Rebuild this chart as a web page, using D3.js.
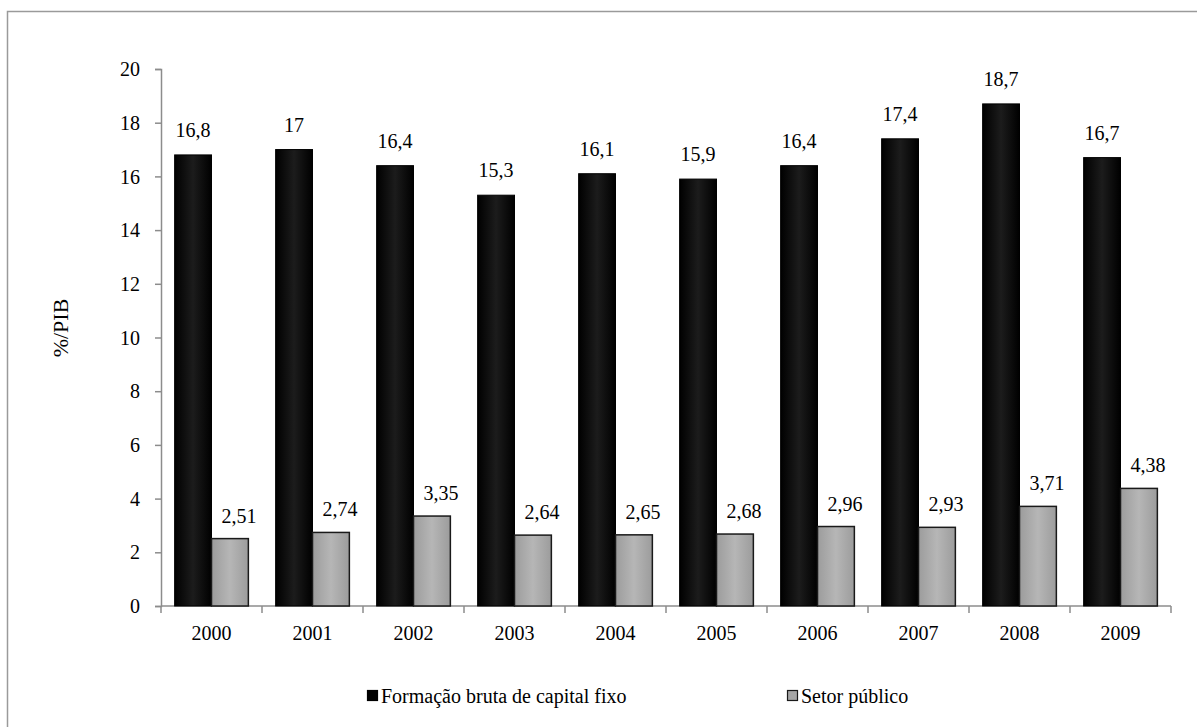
<!DOCTYPE html>
<html>
<head>
<meta charset="utf-8">
<script src="https://cdn.jsdelivr.net/npm/d3@7"></script>
<style>
  html, body { margin: 0; padding: 0; background: #fff; }
</style>
</head>
<body>
<svg id="chart" width="1197" height="727"></svg>
<script>
// Investimento em % do PIB, 2000–2009
const years = ["2000", "2001", "2002", "2003", "2004", "2005", "2006", "2007", "2008", "2009"];
const fbcf = [16.8, 17, 16.4, 15.3, 16.1, 15.9, 16.4, 17.4, 18.7, 16.7];
const setorPublico = [2.51, 2.74, 3.35, 2.64, 2.65, 2.68, 2.96, 2.93, 3.71, 4.38];
const yTicks = [0, 2, 4, 6, 8, 10, 12, 14, 16, 18, 20];
const seriesNames = ["Formação bruta de capital fixo", "Setor público"];

const FONT = "'Liberation Serif', 'Times New Roman', serif";
const fmt = v => String(v).replace(".", ",");
const textStyle = (sel, size) => sel.style("font-family", FONT).style("font-size", size + "px").style("fill", "#000");

const svg = d3.select("#chart");

// outer frame
svg.append("rect")
  .attr("x", 7.5).attr("y", 11.5)
  .attr("width", 1220).attr("height", 740)
  .attr("fill", "#fff").attr("stroke", "#9a9a9a").attr("stroke-width", 1.5);

const defs = svg.append("defs");
function barGradient(id, edge, mid) {
  const g = defs.append("linearGradient").attr("id", id)
    .attr("x1", "0%").attr("x2", "100%").attr("y1", "0%").attr("y2", "0%");
  g.append("stop").attr("offset", "0%").attr("stop-color", edge);
  g.append("stop").attr("offset", "50%").attr("stop-color", mid);
  g.append("stop").attr("offset", "100%").attr("stop-color", edge);
}
barGradient("gBlack", "#000", "#1c1c1c");
barGradient("gGray", "#9c9c9c", "#b6b6b6");

const plot = { left: 161, right: 1171, top: 69, bottom: 606 };

const x = d3.scaleBand().domain(years).range([plot.left, plot.right]).paddingInner(0).paddingOuter(0);
const inner = d3.scaleBand().domain([0, 1]).range([0, x.bandwidth()]).paddingInner(0).paddingOuter(0.37);
const y = d3.scaleLinear().domain([0, 20]).range([plot.bottom, plot.top]);

// y axis
const yAxis = svg.append("g").attr("transform", `translate(${plot.left},0)`)
  .call(d3.axisLeft(y).tickValues(yTicks).tickSize(6).tickPadding(15).tickFormat(d => d));
yAxis.select(".domain").attr("stroke", "#8c8c8c").attr("stroke-width", 1.5);
yAxis.selectAll(".tick line").attr("stroke", "#8c8c8c").attr("stroke-width", 1.5);
textStyle(yAxis.selectAll(".tick text"), 20).attr("dy", "0.33em");

// x axis: category boundaries carry the tick marks
const xg = svg.append("g").attr("transform", `translate(0,${plot.bottom})`);
xg.append("line").attr("x1", plot.left).attr("x2", plot.right)
  .attr("stroke", "#8c8c8c").attr("stroke-width", 1.5);
const bounds = years.map(d => x(d)).concat([x(years[years.length - 1]) + x.bandwidth()]);
xg.selectAll("line.b").data(bounds).join("line").attr("class", "b")
  .attr("x1", d => d).attr("x2", d => d).attr("y1", 0).attr("y2", 7)
  .attr("stroke", "#8c8c8c").attr("stroke-width", 1.5);
textStyle(xg.selectAll("text").data(years).join("text"), 20)
  .attr("x", d => x(d) + x.bandwidth() / 2).attr("y", 34)
  .attr("text-anchor", "middle").text(d => d);

// bars
const groups = svg.append("g").selectAll("g").data(years).join("g")
  .attr("transform", d => `translate(${x(d)},0)`);

groups.append("rect")
  .attr("x", inner(0)).attr("width", inner.bandwidth())
  .attr("y", (d, i) => y(fbcf[i])).attr("height", (d, i) => y(0) - y(fbcf[i]))
  .attr("fill", "url(#gBlack)").attr("stroke", "#000").attr("stroke-width", 1);

groups.append("rect")
  .attr("x", inner(1)).attr("width", inner.bandwidth())
  .attr("y", (d, i) => y(setorPublico[i])).attr("height", (d, i) => y(0) - y(setorPublico[i]))
  .attr("fill", "url(#gGray)").attr("stroke", "#1a1a1a").attr("stroke-width", 1.5);

// value labels
textStyle(groups.append("text"), 20)
  .attr("x", inner(0) + inner.bandwidth() / 2)
  .attr("y", (d, i) => y(fbcf[i]) - 18)
  .attr("text-anchor", "middle")
  .text((d, i) => fmt(fbcf[i]));

textStyle(groups.append("text"), 20)
  .attr("x", inner(1) + inner.bandwidth() / 2 + 9)
  .attr("y", (d, i) => y(setorPublico[i]) - 16)
  .attr("text-anchor", "middle")
  .text((d, i) => fmt(setorPublico[i]));

// y axis title
textStyle(svg.append("text"), 22)
  .attr("transform", "translate(68,328) rotate(-90)")
  .attr("text-anchor", "middle")
  .text("%/PIB");

// legend
const legendItems = [
  { name: seriesNames[0], x: 367, fill: "#000", stroke: "#000" },
  { name: seriesNames[1], x: 787, fill: "#a6a6a6", stroke: "#1a1a1a" }
];
const lg = svg.append("g").selectAll("g").data(legendItems).join("g")
  .attr("transform", d => `translate(${d.x},690)`);
lg.append("rect").attr("x", 0.5).attr("y", 0.5).attr("width", 10).attr("height", 10)
  .attr("fill", d => d.fill).attr("stroke", d => d.stroke).attr("stroke-width", 1.2);
textStyle(lg.append("text"), 20).attr("x", 14).attr("y", 13).text(d => d.name);
</script>
</body>
</html>
